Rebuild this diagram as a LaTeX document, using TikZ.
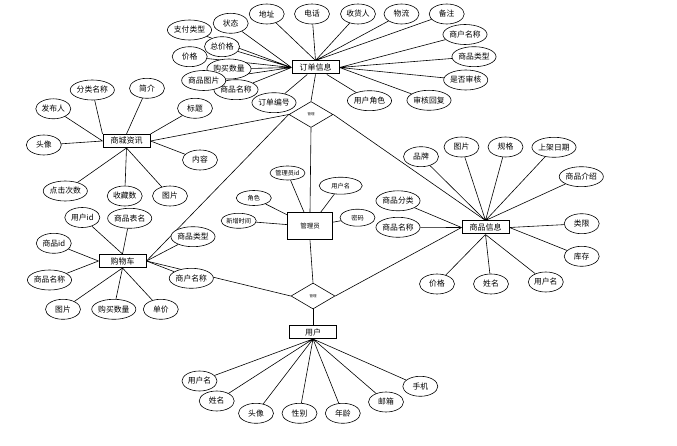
\documentclass[tikz,border=0pt]{standalone}
\usepackage{fontspec}
\setmainfont{Noto Sans CJK SC}
\usetikzlibrary{shapes.geometric,backgrounds}

\tikzset{
  ent/.style={draw, line width=1pt, fill=white, minimum width=47pt, minimum height=13pt,
    inner sep=0pt, font=\fontsize{8}{9}\selectfont},
  attr/.style={draw, ellipse, line width=0.6pt, fill=white, minimum width=35pt, minimum height=20pt,
    inner xsep=0pt, inner ysep=0pt, font=\fontsize{7.8}{8}\selectfont},
  sattr/.style={attr, minimum height=15pt, font=\fontsize{6.2}{7}\selectfont},
  rel/.style={draw, diamond, line width=0.6pt, fill=white, minimum width=44pt, minimum height=26pt,
    inner sep=0pt, font=\fontsize{3.5}{4}\selectfont},
  link/.style={line width=0.6pt}
}

\begin{document}
\begin{tikzpicture}[x=1pt, y=-1pt]
  \useasboundingbox (0,0) rectangle (677,446);

  % Entidades y relaciones
  \node[ent] (dd) at (315.5,67.5) {订单信息};
  \node[ent] (zx) at (126.5,141) {商城资讯};
  \node[ent] (gwc) at (122.5,261) {购物车};
  \node[ent, minimum width=45pt, minimum height=27pt, font=\fontsize{6.5}{7}\selectfont] (gly) at (310,226.4) {管理员};
  \node[ent] (sp) at (485.5,227.5) {商品信息};
  \node[ent] (yh) at (313,332) {用户};
  \node[rel] (r1) at (311,114.5) {管理};
  \node[rel] (r2) at (313,296) {管理};

  % Atributos de 订单信息
  \node[attr] (dd1) at (266.7,14) {地址};
  \node[attr] (dd2) at (312,14) {电话};
  \node[attr] (dd3) at (358,14) {收货人};
  \node[attr] (dd4) at (401.5,14) {物流};
  \node[attr] (dd5) at (446.7,14) {备注};
  \node[attr] (dd6) at (465,34.5) {商户名称};
  \node[attr] (dd7) at (474,56.7) {商品类型};
  \node[attr] (dd8) at (465.7,80) {是否审核};
  \node[attr] (dd9) at (429,100.3) {审核回复};
  \node[attr] (dd10) at (369.5,100.7) {用户角色};
  \node[attr] (dd11) at (274,102.7) {订单编号};
  \node[attr] (dd12) at (236,89.7) {商品名称};
  \node[attr] (dd13) at (229,69) {购买数量};
  \node[attr] (dd14) at (203.7,80.5) {商品图片};
  \node[attr] (dd15) at (189.7,56.7) {价格};
  \node[attr] (dd16) at (222,46.7) {总价格};
  \node[attr] (dd17) at (189.5,30) {支付类型};
  \node[attr] (dd18) at (230.7,23.3) {状态};

  % Atributos de 商城资讯
  \node[attr] (zx1) at (92.3,90) {分类名称};
  \node[attr] (zx2) at (147,88.3) {简介};
  \node[attr] (zx3) at (53.3,108.8) {发布人};
  \node[attr] (zx4) at (195,108.3) {标题};
  \node[attr] (zx5) at (43.8,145) {头像};
  \node[attr] (zx6) at (200,160) {内容};
  \node[attr] (zx7) at (65.3,191) {点击次数};
  \node[attr] (zx8) at (124.7,196) {收藏数};
  \node[attr] (zx9) at (170,196) {图片};

  % Atributos de 购物车
  \node[attr] (gwc1) at (82.3,217.5) {用户id};
  \node[attr] (gwc2) at (129.7,218.3) {商品表名};
  \node[attr] (gwc3) at (53.8,243.3) {商品id};
  \node[attr] (gwc4) at (49.5,280) {商品名称};
  \node[attr] (gwc5) at (63,309.3) {图片};
  \node[attr] (gwc6) at (113.8,309.3) {购买数量};
  \node[attr] (gwc7) at (160.8,309.3) {单价};
  \node[attr] (gwc8) at (193,236.7) {商品类型};
  \node[attr] (gwc9) at (191.3,278.3) {商户名称};

  % Atributos de 管理员
  \node[sattr, minimum height=14pt] (gly1) at (287.5,173) {管理员id};
  \node[sattr, minimum width=43pt, minimum height=17pt] (gly2) at (340.7,185.7) {用户名};
  \node[sattr] (gly3) at (253.8,198) {角色};
  \node[sattr] (gly4) at (238.7,220.8) {新增时间};
  \node[sattr, minimum height=17pt] (gly5) at (357.5,217.7) {密码};

  % Atributos de 商品信息
  \node[attr] (sp1) at (421,156.7) {品牌};
  \node[attr] (sp2) at (461.5,147) {图片};
  \node[attr] (sp3) at (505.5,147) {规格};
  \node[attr] (sp4) at (554,147.3) {上架日期};
  \node[attr] (sp5) at (581.3,176.7) {商品介绍};
  \node[attr] (sp6) at (581.7,223.7) {类限};
  \node[attr] (sp7) at (581.7,256.3) {库存};
  \node[attr] (sp8) at (545.8,282) {用户名};
  \node[attr] (sp9) at (491,284) {姓名};
  \node[attr] (sp10) at (437,284) {价格};
  \node[attr] (sp11) at (398,200.8) {商品分类};
  \node[attr] (sp12) at (398,227.3) {商品名称};

  % Atributos de 用户
  \node[attr] (yh1) at (199.5,381) {用户名};
  \node[attr] (yh2) at (216.7,401) {姓名};
  \node[attr] (yh3) at (256,413.3) {头像};
  \node[attr] (yh4) at (299.5,413.3) {性别};
  \node[attr] (yh5) at (342.8,413.3) {年龄};
  \node[attr] (yh6) at (386,402) {邮箱};
  \node[attr] (yh7) at (420.3,386.3) {手机};

  % Enlaces
  \begin{pgfonlayer}{background}
    \draw[link] (dd.south) -- (r1.north);
    \draw[link] (r1.south) -- (gly.north);
    \draw[link] (zx.east) -- (r1.west);
    \draw[link] (gwc.east) -- (r1.west);
    \draw[link] (r1.east) -- (sp.north);
    \draw[link] (gly.south) -- (r2.north);
    \draw[link] (r2.south) -- (yh.north);
    \draw[link] (gwc.east) -- (r2.west);
    \draw[link] (r2.east) -- (sp.west);

    \draw[link] (dd.north) -- (dd1) (dd.north) -- (dd2) (dd.north) -- (dd3)
      (dd.north) -- (dd4) (dd.north) -- (dd5);
    \draw[link] (dd.east) -- (dd6) (dd.east) -- (dd7) (dd.east) -- (dd8) (dd.east) -- (dd9);
    \draw[link] (dd) -- (dd10) (dd) -- (dd11);
    \draw[link] (dd.west) -- (dd12) (dd.west) -- (dd13) (dd.west) -- (dd14) (dd.west) -- (dd15)
      (dd.west) -- (dd16) (dd.west) -- (dd17) (dd.west) -- (dd18);

    \draw[link] (zx.north west) -- (zx1) (zx.north) -- (zx2) (zx.west) -- (zx3)
      (zx.north east) -- (zx4) (zx.west) -- (zx5) (zx.east) -- (zx6);
    \draw[link] (zx.south) -- (zx7) (zx.south) -- (zx8) (zx.south) -- (zx9);

    \draw[link] (gwc.north) -- (gwc1) (gwc.north) -- (gwc2) (gwc.west) -- (gwc3) (gwc.west) -- (gwc4);
    \draw[link] (gwc.south) -- (gwc5) (gwc.south) -- (gwc6) (gwc.south) -- (gwc7);
    \draw[link] (gwc.east) -- (gwc8) (gwc.east) -- (gwc9);

    \draw[link] (gly) -- (gly1) (gly) -- (gly2) (gly) -- (gly3) (gly) -- (gly4) (gly) -- (gly5);

    \draw[link] (sp.north) -- (sp1) (sp.north) -- (sp2) (sp.north) -- (sp3) (sp.north) -- (sp4)
      (sp.north) -- (sp5);
    \draw[link] (sp.east) -- (sp6) (sp.east) -- (sp7);
    \draw[link] (sp.south) -- (sp8) (sp.south) -- (sp9) (sp.south) -- (sp10);
    \draw[link] (sp.west) -- (sp11) (sp.west) -- (sp12);

    \draw[link] (yh.south) -- (yh1) (yh.south) -- (yh2) (yh.south) -- (yh3) (yh.south) -- (yh4)
      (yh.south) -- (yh5) (yh.south) -- (yh6) (yh.south) -- (yh7);
  \end{pgfonlayer}
\end{tikzpicture}
\end{document}
